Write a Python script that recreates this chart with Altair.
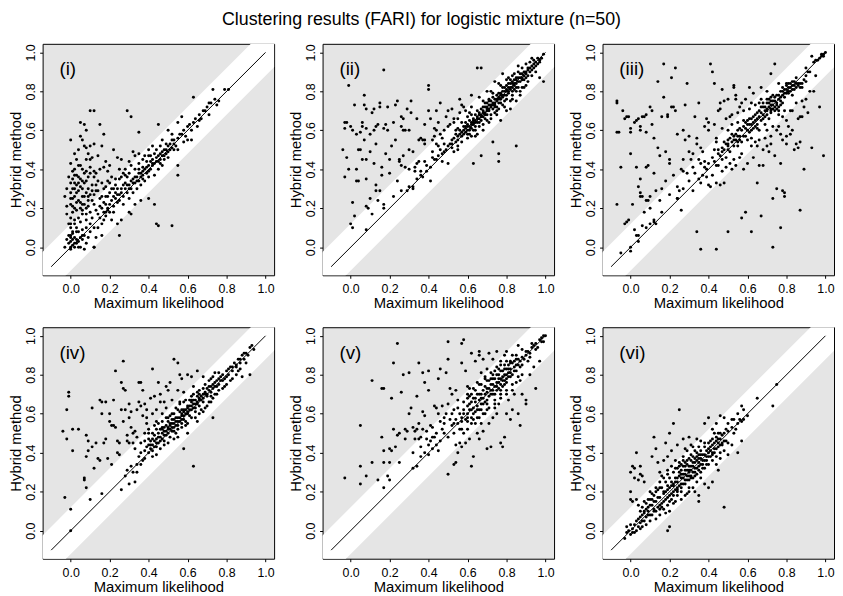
import altair as alt
import pandas as pd

TITLE = "Clustering results (FARI) for logistic mixture (n=50)"
X_TITLE = "Maximum likelihood"
Y_TITLE = "Hybrid method"
PANEL_LABELS = ["(i)", "(ii)", "(iii)", "(iv)", "(v)", "(vi)"]
TICKS = [0.0, 0.2, 0.4, 0.6, 0.8, 1.0]
DIAG_X = [-0.1, 1.0]
DIAG_Y = [-0.1, 1.0]
BAND_X = [-0.4, 1.4]
BAND_HALF = 0.12

# (maximum likelihood, hybrid method) pairs
PANEL_I = [
    (0.0,0.0),(0.01,0.01),(0.0,0.03),(0.02,0.0),(-0.01,0.02),(0.03,0.02),(0.0,-0.01),(0.01,0.04),(0.02,0.05),(0.04,0.03),
    (0.05,0.05),(0.06,0.04),(0.07,0.06),(0.08,0.02),(0.09,0.05),(0.05,0.0),(0.07,-0.01),(0.0,0.06),(0.01,0.08),(0.03,0.1),
    (-0.02,0.04),(-0.03,0.0),(0.04,0.08),(0.06,0.09),(0.08,0.1),(0.1,0.08),(0.02,0.12),(0.0,0.1),(0.05,0.13),(0.08,0.14),
    (0.1,0.12),(0.12,0.1),(0.13,0.05),(0.12,0.0),(0.11,0.15),(0.0,0.15),(0.01,0.18),(0.0,0.22),(0.02,0.2),(0.01,0.25),
    (0.0,0.28),(0.02,0.3),(0.0,0.33),(0.01,0.35),(0.03,0.37),(0.04,0.33),(0.03,0.28),(0.04,0.24),(0.05,0.2),(0.06,0.22),
    (0.07,0.26),(0.06,0.3),(0.05,0.35),(0.08,0.34),(0.07,0.38),(0.09,0.3),(0.09,0.24),(0.08,0.2),(0.1,0.18),(0.1,0.27),
    (0.11,0.32),(0.1,0.38),(0.12,0.22),(0.13,0.29),(0.12,0.36),(0.02,0.4),(0.05,0.42),(0.08,0.45),(0.1,0.41),(0.03,0.45),
    (-0.02,0.17),(-0.03,0.26),(-0.02,0.3),(0.0,0.43),(0.06,0.17),(0.04,0.15),(0.02,0.33),(0.06,0.26),(0.14,0.17),(0.15,0.25),
    (0.16,0.2),(0.14,0.34),(0.15,0.4),(0.17,0.3),(0.18,0.22),(0.0,0.55),(0.05,0.64),(0.07,0.63),(0.08,0.6),(0.05,0.57),
    (0.07,0.52),(0.1,0.7),(0.12,0.7),(0.09,0.48),(0.11,0.46),(0.12,0.53),(0.15,0.63),(0.16,0.52),(0.17,0.58),(0.14,0.47),
    (0.18,0.44),(0.2,0.42),(0.22,0.5),(0.24,0.46),(0.29,0.7),(0.31,0.67),(0.26,0.45),(0.3,0.44),(0.32,0.49),(0.33,0.47),
    (0.35,0.59),(0.27,0.38),(0.25,0.4),(0.23,0.35),(0.21,0.36),(0.19,0.34),(0.2,0.28),(0.22,0.3),(0.18,0.18),(0.19,0.2),
    (0.17,0.14),(0.21,0.14),(0.24,0.12),(0.26,0.14),(0.14,0.1),(0.16,0.06),(0.04,0.5),(0.02,0.48),(0.1,0.52),(0.15,0.15),
    (0.17,0.18),(0.19,0.19),(0.2,0.22),(0.22,0.21),(0.23,0.25),(0.24,0.23),(0.25,0.27),(0.27,0.26),(0.28,0.3),(0.29,0.28),
    (0.3,0.32),(0.31,0.3),(0.32,0.35),(0.33,0.33),(0.34,0.36),(0.35,0.34),(0.36,0.38),(0.37,0.37),(0.38,0.4),(0.39,0.38),
    (0.4,0.42),(0.41,0.4),(0.42,0.45),(0.43,0.43),(0.44,0.46),(0.45,0.44),(0.46,0.48),(0.47,0.47),(0.48,0.5),(0.49,0.48),
    (0.5,0.52),(0.51,0.5),(0.52,0.55),(0.53,0.53),(0.55,0.56),(0.57,0.58),(0.6,0.62),(0.62,0.6),(0.64,0.66),(0.66,0.68),
    (0.67,0.66),(0.7,0.72),(0.72,0.74),(0.74,0.76),(0.75,0.73),(0.73,0.81),(0.79,0.81),(0.81,0.81),(0.63,0.77),(0.57,0.67),
    (0.61,0.63),(0.62,0.55),(0.55,0.64),(0.52,0.58),(0.5,0.6),(0.45,0.63),(0.47,0.55),(0.4,0.5),(0.42,0.52),(0.38,0.47),
    (0.35,0.43),(0.33,0.4),(0.3,0.38),(0.28,0.33),(0.26,0.3),(0.24,0.3),(0.36,0.32),(0.38,0.34),(0.4,0.36),(0.43,0.37),
    (0.45,0.4),(0.48,0.45),(0.5,0.46),(0.53,0.5),(0.32,0.28),(0.3,0.25),(0.27,0.22),(0.33,0.22),(0.36,0.24),(0.4,0.25),
    (0.34,0.3),(0.29,0.36),(0.31,0.42),(0.39,0.44),(0.44,0.5),(0.46,0.52),(0.49,0.53),(0.41,0.47),(0.37,0.41),(0.25,0.35),
    (0.23,0.28),(0.21,0.24),(0.2,0.18),(0.22,0.18),(0.18,0.16),(0.16,0.12),(0.43,0.22),(0.44,0.12),(0.45,0.11),(0.52,0.11),
    (0.55,0.42),(0.55,0.37),(0.3,0.18),(0.31,0.17),(0.25,0.06),(0.12,0.0),(0.55,0.5),(0.58,0.54),(0.65,0.62),(0.68,0.7),
    (0.71,0.68),(0.6,0.55),(0.35,0.4),(0.37,0.45),(0.42,0.42),(0.47,0.42),(0.26,0.36),(0.28,0.4),(-0.01,0.12),(0.03,0.19),
    (0.0,0.05),(0.01,0.07),(0.02,0.02),(0.03,0.04),(-0.01,0.06),(0.04,0.0),(0.06,0.06),(0.03,0.08),(0.0,0.12),(0.02,0.14),
    (0.01,0.21),(0.03,0.23),(0.02,0.26),(0.04,0.29),(0.01,0.3),(0.03,0.32),(0.05,0.31),(0.06,0.34),(0.04,0.36),(0.02,0.37),
    (0.07,0.33),(0.08,0.28),(0.09,0.26),(0.07,0.22),(0.05,0.23),(0.06,0.19),(0.08,0.17),(0.09,0.21),(0.11,0.24),(0.12,0.27),
    (0.11,0.29),(0.13,0.32),(0.12,0.39),(0.09,0.36),(0.08,0.39),(0.06,0.4),(0.04,0.42),(0.01,0.39),(-0.01,0.36),(0.0,0.25),
    (-0.02,0.21),(0.13,0.19),(0.15,0.21),(0.16,0.26),(0.17,0.23),(0.19,0.26),(0.18,0.31),(0.2,0.33),(0.21,0.3),(0.23,0.32),
    (0.24,0.27),(0.26,0.28),(0.27,0.32),(0.29,0.32),(0.3,0.3),(0.32,0.33),(0.33,0.36),(0.34,0.34),(0.35,0.38),(0.36,0.36),
    (0.37,0.39),(0.39,0.41),(0.4,0.39),(0.41,0.44),(0.42,0.43),(0.44,0.44),(0.45,0.47),(0.46,0.45),(0.47,0.49),(0.48,0.47),
    (0.5,0.49),(0.51,0.53),(0.53,0.55),(0.54,0.52),(0.56,0.58),(0.58,0.6),(0.59,0.57),(0.63,0.64),(0.66,0.65),(0.69,0.7),
    (0.71,0.74),(0.76,0.75),(0.28,0.37),(0.31,0.34),(0.35,0.48),(0.37,0.35),(0.4,0.47),(0.43,0.48),(0.46,0.43),(0.49,0.5),
    (0.52,0.51),(0.22,0.26),(0.25,0.24),(0.18,0.26),(0.14,0.29),(0.16,0.33),(0.19,0.39),(0.13,0.38),(0.1,0.45),(0.08,0.51),
    (0.06,0.55),(0.17,0.41),
]

PANEL_II = [
    (-0.04,0.5),(-0.03,0.36),(-0.03,0.61),(-0.03,0.64),(-0.02,0.46),(-0.02,0.64),(-0.01,0.4),(-0.01,0.83),(0.0,0.12),(0.01,0.1),
    (0.0,0.62),(0.01,0.6),(0.01,0.23),(0.02,0.73),(0.02,0.16),(0.03,0.58),(0.03,0.4),(0.03,0.34),(0.04,0.34),(0.04,0.5),
    (0.05,0.5),(0.05,0.59),(0.06,0.64),(0.06,0.62),(0.06,0.45),(0.07,0.73),(0.07,0.55),(0.07,0.78),(0.08,0.71),(0.08,0.61),
    (0.08,0.45),(0.08,0.35),(0.08,0.21),(0.08,0.09),(0.09,0.2),(0.1,0.25),(0.1,0.58),(0.11,0.69),(0.11,0.17),(0.12,0.43),
    (0.12,0.71),(0.13,0.62),(0.13,0.53),(0.13,0.29),(0.13,0.32),(0.14,0.24),(0.14,0.63),(0.15,0.74),(0.15,0.72),(0.15,0.29),
    (0.16,0.41),(0.16,0.37),(0.17,0.22),(0.17,0.2),(0.17,0.91),(0.17,0.61),(0.18,0.63),(0.19,0.6),(0.19,0.72),(0.2,0.45),
    (0.2,0.38),(0.23,0.73),(0.23,0.55),(0.24,0.75),(0.24,0.34),(0.25,0.45),(0.25,0.44),(0.26,0.62),(0.26,0.67),(0.26,0.42),
    (0.27,0.66),(0.27,0.6),(0.28,0.6),(0.28,0.41),(0.29,0.29),(0.3,0.5),(0.3,0.6),(0.3,0.31),(0.31,0.69),(0.31,0.75),
    (0.32,0.49),(0.32,0.3),(0.33,0.39),(0.33,0.41),(0.34,0.43),(0.35,0.55),(0.36,0.37),(0.36,0.56),(0.37,0.55),(0.37,0.36),
    (0.38,0.55),(0.38,0.53),(0.38,0.44),(0.39,0.39),(0.4,0.7),(0.4,0.83),(0.4,0.81),(0.41,0.66),(0.41,0.34),(0.42,0.55),
    (0.42,0.46),(0.43,0.57),(0.43,0.61),(0.44,0.7),(0.44,0.6),(0.45,0.52),(0.46,0.74),(0.46,0.5),(0.47,0.44),(0.47,0.56),
    (0.48,0.53),(0.49,0.67),(0.5,0.7),(0.5,0.43),(0.51,0.63),(0.51,0.53),(0.52,0.55),(0.53,0.64),(0.54,0.58),(0.55,0.61),
    (0.55,0.5),(0.55,0.66),(0.56,0.76),(0.57,0.73),(0.58,0.72),(0.59,0.62),(0.6,0.58),(0.61,0.69),(0.62,0.78),(0.63,0.64),
    (0.5,0.52),(0.52,0.53),(0.53,0.56),(0.55,0.55),(0.56,0.58),(0.57,0.57),(0.58,0.6),(0.58,0.62),(0.59,0.59),(0.6,0.63),
    (0.6,0.6),(0.61,0.62),(0.61,0.65),(0.62,0.61),(0.62,0.64),(0.63,0.63),(0.63,0.66),(0.64,0.62),(0.64,0.65),(0.64,0.68),
    (0.65,0.64),(0.65,0.67),(0.66,0.66),(0.66,0.69),(0.67,0.65),(0.67,0.68),(0.67,0.71),(0.68,0.67),(0.68,0.7),(0.69,0.69),
    (0.69,0.72),(0.7,0.68),(0.7,0.71),(0.7,0.74),(0.71,0.7),(0.71,0.73),(0.72,0.72),(0.72,0.75),(0.73,0.71),(0.73,0.74),
    (0.74,0.73),(0.74,0.76),(0.75,0.72),(0.75,0.75),(0.75,0.78),(0.76,0.74),(0.76,0.77),(0.77,0.76),(0.77,0.79),(0.78,0.77),
    (0.78,0.8),(0.79,0.78),(0.79,0.82),(0.8,0.8),(0.8,0.83),(0.81,0.79),(0.81,0.82),(0.82,0.81),(0.82,0.84),(0.83,0.82),
    (0.83,0.85),(0.84,0.83),(0.84,0.86),(0.85,0.84),(0.85,0.87),(0.86,0.85),(0.86,0.82),(0.87,0.87),(0.88,0.86),(0.88,0.89),
    (0.89,0.88),(0.9,0.9),(0.9,0.87),(0.91,0.91),(0.92,0.9),(0.93,0.93),(0.94,0.92),(0.95,0.95),(0.96,0.94),(0.97,0.96),
    (0.98,0.97),(0.99,0.99),(0.92,0.95),(0.88,0.92),(0.85,0.8),(0.83,0.78),(0.8,0.76),(0.78,0.73),(0.75,0.7),(0.72,0.68),
    (0.7,0.65),(0.68,0.63),(0.66,0.62),(0.63,0.6),(0.6,0.56),(0.57,0.54),(0.55,0.52),(0.53,0.49),(0.72,0.66),(0.76,0.71),
    (0.8,0.7),(0.82,0.75),(0.87,0.78),(0.89,0.82),(0.91,0.85),(0.65,0.58),(0.62,0.57),(0.77,0.65),(0.82,0.71),(0.93,0.88),
    (0.95,0.9),(0.97,0.87),(0.99,0.85),(0.85,0.52),(0.73,0.54),(0.76,0.48),(0.76,0.44),(0.67,0.47),(0.63,0.43),(0.65,0.92),
    (0.67,0.92),(0.78,0.89),(0.74,0.85),(0.7,0.8),(0.66,0.77),(0.62,0.72),(0.68,0.75),(0.72,0.8),(0.76,0.84),(0.8,0.86),
    (0.84,0.89),(0.86,0.9),(0.9,0.94),(0.94,0.96),(0.6,0.67),(0.57,0.64),(0.54,0.6),(0.85,0.75),(0.88,0.82),(0.74,0.69),
    (0.69,0.66),(0.64,0.6),(0.71,0.76),(0.79,0.75),(0.83,0.88),(0.97,0.95),(0.93,0.97),(0.45,0.47),(0.48,0.49),(0.44,0.45),
    (0.56,0.6),(0.58,0.58),(0.59,0.61),(0.6,0.62),(0.61,0.6),(0.62,0.63),(0.63,0.65),(0.64,0.64),(0.65,0.66),(0.66,0.64),
    (0.66,0.68),(0.67,0.67),(0.68,0.69),(0.68,0.72),(0.69,0.68),(0.7,0.7),(0.7,0.72),(0.71,0.71),(0.71,0.75),(0.72,0.73),
    (0.73,0.73),(0.73,0.77),(0.74,0.74),(0.74,0.72),(0.75,0.76),(0.76,0.76),(0.76,0.79),(0.77,0.78),(0.77,0.74),(0.78,0.78),
    (0.78,0.82),(0.79,0.8),(0.8,0.81),(0.8,0.78),(0.81,0.84),(0.81,0.8),(0.82,0.82),(0.82,0.86),(0.83,0.84),(0.83,0.8),
    (0.84,0.84),(0.84,0.81),(0.85,0.86),(0.85,0.82),(0.86,0.87),(0.87,0.85),(0.87,0.89),(0.88,0.87),(0.89,0.9),(0.89,0.86),
    (0.9,0.89),(0.91,0.92),(0.91,0.88),(0.92,0.92),(0.93,0.91),(0.94,0.94),(0.95,0.93),(0.96,0.97),(0.62,0.68),(0.65,0.7),
    (0.69,0.74),(0.73,0.79),(0.77,0.83),(0.81,0.87),(0.86,0.93),(0.64,0.57),(0.68,0.6),(0.71,0.64),(0.75,0.68),(0.79,0.72),
    (0.83,0.76),(0.87,0.8),(0.9,0.83),(0.55,0.57),(0.57,0.59),(0.59,0.64),(0.61,0.58),(0.54,0.54),(0.52,0.51),(0.49,0.5),
    (0.47,0.48),(0.43,0.45),(0.41,0.41),(0.39,0.42),(0.36,0.39),(0.34,0.35),(0.32,0.31),(0.26,0.29),(0.22,0.26),(0.46,0.58),
    (0.5,0.62),(0.53,0.66),(0.56,0.69),(0.59,0.7),(0.48,0.6),(0.44,0.53),(0.42,0.49),(0.35,0.44),(0.3,0.4),(0.27,0.47),
    (0.21,0.52),(0.18,0.48),(0.1,0.49),(0.12,0.6),(0.22,0.64),(0.29,0.71),(0.34,0.66),(0.38,0.63),(0.45,0.64),(0.52,0.71),
]

PANEL_III = [
    (-0.07,0.75),(-0.07,0.74),(-0.07,0.59),(-0.06,0.59),(-0.07,0.22),(-0.05,0.41),(-0.04,0.7),(-0.03,0.66),(-0.02,0.67),(-0.01,0.67),
    (0.0,0.61),(0.0,0.59),(0.0,0.48),(-0.03,0.12),(-0.02,0.13),(-0.01,0.14),(0.01,0.22),(0.02,0.64),(0.03,0.65),(0.04,0.66),
    (0.05,0.62),(0.05,0.6),(0.06,0.67),(0.07,0.67),(0.08,0.68),(0.08,0.59),(0.03,0.41),(0.04,0.31),(0.05,0.35),(0.05,0.28),
    (0.05,0.26),(0.06,0.26),(0.07,0.18),(0.08,0.24),(0.08,0.41),(0.09,0.42),(0.09,0.24),(0.1,0.2),(0.1,0.26),(0.1,0.72),
    (0.11,0.7),(0.11,0.63),(0.12,0.56),(0.12,0.38),(0.12,0.13),(0.13,0.12),(0.13,0.29),(0.14,0.85),(0.14,0.51),(0.15,0.47),
    (0.15,0.24),(0.16,0.3),(0.16,0.67),(0.17,0.94),(0.17,0.77),(0.18,0.49),(0.18,0.34),(0.19,0.68),(0.19,0.67),(0.2,0.45),
    (0.2,0.43),(0.21,0.87),(0.21,0.72),(0.22,0.72),(0.22,0.37),(0.23,0.92),(0.23,0.7),(0.24,0.58),(0.24,0.31),(0.24,0.25),
    (0.25,0.29),(0.26,0.4),(0.26,0.19),(0.27,0.6),(0.27,0.39),(0.28,0.73),(0.28,0.55),(0.29,0.84),(0.3,0.57),(0.3,0.49),
    (0.31,0.45),(0.32,0.48),(0.33,0.67),(0.34,0.56),(0.34,0.53),(0.35,0.74),(0.35,0.45),(0.36,0.51),(0.37,0.49),(0.38,0.62),
    (0.38,0.44),(0.39,0.66),(0.4,0.6),(0.4,0.64),(0.41,0.94),(0.42,0.9),(0.43,0.84),(0.43,0.63),(0.44,0.54),(0.45,0.7),
    (0.46,0.74),(0.46,0.71),(0.47,0.81),(0.48,0.75),(0.49,0.66),(0.5,0.76),(0.51,0.67),(0.52,0.63),(0.53,0.83),(0.53,0.82),
    (0.54,0.78),(0.54,0.76),(0.55,0.69),(0.57,0.74),(0.59,0.64),(0.61,0.82),(0.62,0.74),(0.66,0.74),(0.67,0.82),(0.72,0.89),
    (0.74,0.94),(0.76,0.84),(-0.05,-0.03),(0.0,0.0),(0.0,-0.02),(0.02,0.09),(0.03,0.06),(0.04,0.03),(0.04,0.06),(0.06,0.11),
    (0.08,0.1),(0.1,0.12),(0.12,0.14),(0.16,0.18),(0.2,0.27),(0.24,0.25),(0.27,0.3),(0.3,0.34),(0.32,0.29),(0.33,0.38),
    (0.35,0.35),(0.36,0.33),(0.37,0.37),(0.38,0.41),(0.39,0.4),(0.4,0.32),(0.4,0.43),(0.41,0.31),(0.42,0.46),(0.43,0.44),
    (0.43,0.5),(0.44,0.42),(0.45,0.48),(0.46,0.47),(0.47,0.51),(0.48,0.5),(0.49,0.46),(0.49,0.53),(0.5,0.52),(0.5,0.55),
    (0.51,0.49),(0.52,0.54),(0.52,0.58),(0.53,0.52),(0.54,0.55),(0.55,0.54),(0.55,0.6),(0.56,0.57),(0.57,0.54),(0.57,0.6),
    (0.58,0.62),(0.59,0.57),(0.6,0.6),(0.6,0.65),(0.61,0.63),(0.62,0.6),(0.62,0.66),(0.63,0.64),(0.64,0.68),(0.64,0.62),
    (0.65,0.66),(0.66,0.7),(0.67,0.65),(0.67,0.69),(0.68,0.72),(0.69,0.7),(0.7,0.74),(0.7,0.68),(0.71,0.72),(0.71,0.76),
    (0.72,0.73),(0.73,0.75),(0.73,0.71),(0.74,0.77),(0.75,0.74),(0.76,0.78),(0.76,0.72),(0.77,0.8),(0.78,0.78),(0.79,0.81),
    (0.8,0.83),(0.8,0.79),(0.81,0.82),(0.82,0.84),(0.82,0.8),(0.83,0.83),(0.84,0.85),(0.85,0.82),(0.86,0.84),(0.87,0.84),
    (0.88,0.82),(0.89,0.86),(0.9,0.88),(0.92,0.9),(0.94,0.95),(0.96,0.96),(0.98,0.98),(0.99,0.99),(1.0,1.0),(0.99,0.98),
    (0.93,0.98),(0.9,0.92),(0.83,0.78),(0.78,0.74),(0.74,0.7),(0.72,0.69),(0.68,0.66),(0.65,0.63),(0.55,0.52),(0.53,0.57),
    (0.47,0.45),(0.45,0.42),(0.72,0.77),(0.7,0.71),(0.77,0.75),(0.79,0.77),(0.81,0.79),(0.85,0.87),(0.34,0.08),(0.36,-0.01),
    (0.44,-0.01),(0.5,0.08),(0.57,0.15),(0.59,0.18),(0.62,0.08),(0.65,0.33),(0.67,0.16),(0.73,0.0),(0.73,0.25),(0.75,0.3),
    (0.77,0.1),(0.78,0.29),(0.79,0.26),(0.79,0.28),(0.87,0.19),(0.89,0.4),(0.93,0.51),(0.97,0.72),(0.99,0.47),(0.6,0.43),
    (0.63,0.46),(0.65,0.52),(0.66,0.42),(0.68,0.42),(0.7,0.52),(0.72,0.53),(0.74,0.47),(0.75,0.6),(0.76,0.62),(0.77,0.43),
    (0.78,0.55),(0.8,0.57),(0.8,0.65),(0.81,0.62),(0.82,0.58),(0.83,0.7),(0.84,0.5),(0.85,0.53),(0.86,0.51),(0.87,0.67),
    (0.87,0.54),(0.88,0.67),(0.89,0.72),(0.9,0.76),(0.91,0.69),(0.92,0.8),(0.94,0.8),(0.95,0.88),(0.56,0.46),(0.58,0.4),
    (0.52,0.4),(0.54,0.42),(0.48,0.33),(0.46,0.32),(0.44,0.33),(0.5,0.5),(0.62,0.52),(0.7,0.6),(0.73,0.62),(0.76,0.68),
    (0.79,0.7),(0.69,0.56),(0.66,0.55),(0.71,0.49),(0.84,0.81),(0.81,0.84),(0.78,0.82),(0.75,0.71),(0.72,0.7),(0.69,0.67),
    (0.45,0.5),(0.47,0.49),(0.48,0.54),(0.5,0.53),(0.51,0.56),(0.53,0.55),(0.54,0.58),(0.55,0.57),(0.56,0.55),(0.56,0.61),
    (0.58,0.57),(0.58,0.65),(0.59,0.61),(0.6,0.63),(0.61,0.59),(0.61,0.66),(0.62,0.63),(0.63,0.67),(0.63,0.61),(0.64,0.65),
    (0.65,0.69),(0.65,0.61),(0.66,0.67),(0.67,0.72),(0.68,0.68),(0.68,0.74),(0.69,0.72),(0.7,0.7),(0.7,0.76),(0.71,0.74),
    (0.72,0.71),(0.72,0.75),(0.73,0.73),(0.73,0.78),(0.74,0.72),(0.74,0.75),(0.75,0.78),(0.75,0.73),(0.76,0.76),(0.77,0.73),
    (0.77,0.77),(0.78,0.8),(0.79,0.79),(0.8,0.81),(0.8,0.84),(0.81,0.8),(0.82,0.82),(0.83,0.81),(0.83,0.85),(0.84,0.83),
    (0.85,0.84),(0.86,0.83),(0.87,0.82),(0.88,0.84),(0.9,0.85),(0.91,0.9),(0.95,0.96),(0.97,0.97),(0.98,0.99),(0.62,0.56),
    (0.66,0.6),(0.69,0.63),(0.71,0.66),(0.76,0.7),(0.78,0.67),(0.82,0.7),(0.85,0.74),(0.88,0.75),(0.86,0.66),(0.83,0.6),
    (0.8,0.53),(0.77,0.58),(0.72,0.57),(0.68,0.5),(0.64,0.54),(0.6,0.55),(0.57,0.48),(0.53,0.45),(0.51,0.43),(0.49,0.41),
    (0.47,0.39),(0.42,0.37),(0.39,0.36),(0.36,0.43),(0.32,0.41),(0.29,0.38),(0.27,0.45),(0.44,0.56),(0.47,0.61),(0.5,0.6),
    (0.55,0.64),(0.58,0.7),(0.61,0.71),(0.64,0.73),(0.67,0.76),(0.7,0.8),(0.63,0.79),(0.59,0.76),(0.56,0.72),(0.52,0.68),
]

PANEL_IV = [
    (-0.04,0.51),(-0.03,0.17),(-0.02,0.47),(-0.02,0.62),(-0.01,0.69),(-0.01,0.71),(0.0,0.11),(0.0,0.0),(0.01,0.52),(0.01,0.41),
    (0.04,0.52),(0.07,0.27),(0.07,0.26),(0.08,0.38),(0.08,0.49),(0.08,0.22),(0.09,0.46),(0.09,0.41),(0.1,0.16),(0.11,0.63),
    (0.11,0.43),(0.12,0.32),(0.13,0.45),(0.14,0.37),(0.15,0.36),(0.15,0.67),(0.16,0.66),(0.16,0.6),(0.16,0.19),(0.17,0.45),
    (0.18,0.66),(0.18,0.47),(0.19,0.37),(0.2,0.6),(0.2,0.56),(0.21,0.34),(0.21,0.54),(0.22,0.67),(0.22,0.54),(0.23,0.82),
    (0.23,0.53),(0.24,0.46),(0.24,0.4),(0.25,0.45),(0.25,0.39),(0.26,0.76),(0.26,0.62),(0.27,0.87),(0.27,0.73),(0.27,0.56),
    (0.28,0.62),(0.28,0.72),(0.29,0.46),(0.29,0.49),(0.3,0.58),(0.3,0.65),(0.3,0.45),(0.31,0.53),(0.31,0.61),(0.32,0.5),
    (0.32,0.45),(0.33,0.51),(0.34,0.62),(0.35,0.76),(0.35,0.66),(0.36,0.76),(0.36,0.64),(0.37,0.72),(0.37,0.59),(0.38,0.65),
    (0.38,0.5),(0.39,0.62),(0.39,0.55),(0.4,0.52),(0.4,0.47),(0.41,0.68),(0.42,0.83),(0.42,0.6),(0.43,0.69),(0.44,0.56),
    (0.45,0.76),(0.46,0.7),(0.47,0.6),(0.48,0.66),(0.49,0.74),(0.5,0.72),(0.51,0.76),(0.52,0.67),(0.53,0.88),(0.55,0.86),
    (0.55,0.72),(0.56,0.8),(0.57,0.78),(0.58,0.71),(0.6,0.8),(0.62,0.79),(0.63,0.74),(0.65,0.82),(0.68,0.79),(0.26,0.21),
    (0.28,0.28),(0.3,0.24),(0.32,0.3),(0.33,0.25),(0.34,0.34),(0.35,0.38),(0.36,0.4),(0.37,0.36),(0.38,0.41),(0.39,0.43),
    (0.4,0.4),(0.4,0.44),(0.41,0.42),(0.41,0.46),(0.42,0.41),(0.42,0.44),(0.43,0.46),(0.43,0.49),(0.44,0.43),(0.44,0.47),
    (0.45,0.45),(0.45,0.5),(0.46,0.48),(0.46,0.52),(0.47,0.47),(0.47,0.5),(0.48,0.49),(0.48,0.53),(0.49,0.51),(0.49,0.54),
    (0.5,0.5),(0.5,0.53),(0.5,0.56),(0.51,0.52),(0.51,0.55),(0.52,0.53),(0.52,0.57),(0.53,0.51),(0.53,0.55),(0.54,0.54),
    (0.54,0.58),(0.55,0.56),(0.55,0.52),(0.56,0.58),(0.56,0.61),(0.57,0.57),(0.57,0.6),(0.58,0.59),(0.58,0.62),(0.59,0.6),
    (0.59,0.56),(0.6,0.61),(0.6,0.64),(0.61,0.62),(0.61,0.59),(0.62,0.64),(0.62,0.66),(0.63,0.63),(0.63,0.67),(0.64,0.65),
    (0.64,0.61),(0.65,0.66),(0.65,0.69),(0.66,0.67),(0.66,0.64),(0.67,0.69),(0.68,0.7),(0.68,0.66),(0.69,0.71),(0.7,0.7),
    (0.7,0.73),(0.71,0.72),(0.72,0.74),(0.72,0.69),(0.73,0.75),(0.74,0.76),(0.75,0.74),(0.76,0.78),(0.77,0.77),(0.78,0.8),
    (0.79,0.78),(0.8,0.82),(0.81,0.8),(0.82,0.84),(0.83,0.82),(0.84,0.86),(0.85,0.84),(0.86,0.88),(0.87,0.86),(0.88,0.9),
    (0.89,0.88),(0.9,0.91),(0.91,0.9),(0.92,0.94),(0.93,0.95),(0.94,0.93),(0.92,0.8),(0.88,0.79),(0.86,0.82),(0.83,0.78),
    (0.8,0.75),(0.76,0.72),(0.73,0.68),(0.73,0.58),(0.7,0.64),(0.67,0.62),(0.65,0.56),(0.63,0.33),(0.6,0.5),(0.58,0.42),
    (0.57,0.55),(0.55,0.48),(0.53,0.47),(0.5,0.45),(0.48,0.44),(0.46,0.42),(0.44,0.39),(0.42,0.38),(0.38,0.37),(0.36,0.34),
    (0.34,0.3),(0.31,0.33),(0.29,0.31),(0.6,0.55),(0.64,0.58),(0.68,0.61),(0.71,0.66),(0.75,0.7),(0.78,0.73),(0.82,0.77),
    (0.85,0.8),(0.87,0.83),(0.9,0.86),(0.47,0.56),(0.49,0.58),(0.51,0.59),(0.55,0.62),(0.58,0.66),(0.62,0.69),(0.66,0.72),
    (0.69,0.75),(0.72,0.78),(0.74,0.81),(0.45,0.55),(0.44,0.52),(0.42,0.5),(0.53,0.6),(0.56,0.65),(0.59,0.67),(0.63,0.7),
    (0.41,0.44),(0.42,0.47),(0.43,0.43),(0.44,0.45),(0.45,0.48),(0.46,0.46),(0.47,0.52),(0.48,0.51),(0.49,0.49),(0.5,0.52),
    (0.51,0.54),(0.52,0.51),(0.52,0.55),(0.53,0.53),(0.53,0.57),(0.54,0.56),(0.55,0.54),(0.55,0.58),(0.56,0.56),(0.57,0.59),
    (0.57,0.62),(0.58,0.57),(0.58,0.61),(0.59,0.62),(0.6,0.6),(0.6,0.63),(0.61,0.64),(0.62,0.62),(0.62,0.67),(0.63,0.65),
    (0.64,0.63),(0.64,0.67),(0.65,0.65),(0.66,0.68),(0.66,0.7),(0.67,0.67),(0.68,0.68),(0.69,0.7),(0.7,0.69),(0.71,0.74),
    (0.72,0.71),(0.73,0.73),(0.74,0.74),(0.75,0.77),(0.76,0.75),(0.77,0.79),(0.78,0.77),(0.8,0.79),(0.81,0.83),(0.83,0.84),
    (0.85,0.85),(0.87,0.88),(0.89,0.91),(0.5,0.58),(0.52,0.6),(0.54,0.63),(0.56,0.66),(0.61,0.67),(0.65,0.71),(0.68,0.73),
    (0.71,0.77),(0.73,0.79),(0.76,0.81),(0.48,0.46),(0.51,0.48),(0.54,0.5),(0.57,0.53),(0.59,0.54),(0.62,0.58),(0.66,0.6),
    (0.69,0.63),(0.72,0.66),(0.74,0.7),(0.79,0.74),(0.43,0.54),(0.4,0.5),(0.38,0.46),(0.36,0.45),(0.34,0.48),(0.33,0.42),
    (0.39,0.58),(0.44,0.62),(0.46,0.66),(0.49,0.63),(0.47,0.53),
]

PANEL_V = [
    (-0.03,0.27),(0.05,0.54),(0.05,0.24),(0.05,0.33),(0.08,0.28),(0.11,0.35),(0.11,0.77),(0.14,0.26),(0.16,0.73),(0.16,0.48),
    (0.17,0.73),(0.17,0.41),(0.17,0.35),(0.17,0.22),(0.19,0.28),(0.2,0.42),(0.2,0.35),(0.2,0.26),(0.21,0.68),(0.21,0.41),
    (0.22,0.52),(0.22,0.86),(0.23,0.43),(0.24,0.96),(0.24,0.49),(0.25,0.5),(0.25,0.35),(0.26,0.71),(0.27,0.8),(0.28,0.52),
    (0.28,0.47),(0.29,0.51),(0.3,0.81),(0.3,0.6),(0.31,0.63),(0.32,0.53),(0.32,0.4),(0.33,0.47),(0.33,0.51),(0.34,0.69),
    (0.34,0.52),(0.35,0.86),(0.35,0.55),(0.36,0.48),(0.36,0.43),(0.37,0.61),(0.37,0.81),(0.38,0.76),(0.38,0.59),(0.39,0.51),
    (0.4,0.72),(0.4,0.82),(0.41,0.54),(0.41,0.46),(0.42,0.53),(0.43,0.64),(0.43,0.48),(0.44,0.63),(0.45,0.78),(0.45,0.6),
    (0.46,0.83),(0.47,0.64),(0.48,0.55),(0.49,0.81),(0.5,0.97),(0.5,0.88),(0.5,0.65),(0.51,0.73),(0.52,0.7),(0.53,0.62),
    (0.54,0.72),(0.55,0.67),(0.57,0.96),(0.57,0.86),(0.58,0.98),(0.59,0.82),(0.6,0.74),(0.61,0.73),(0.62,0.91),(0.64,0.87),
    (0.66,0.92),(0.66,0.9),(0.67,0.81),(0.68,0.88),(0.7,0.83),(0.71,0.91),(0.73,0.88),(0.75,0.92),(0.77,0.87),(0.79,0.9),
    (0.8,0.92),(0.83,0.9),(0.86,0.95),(0.88,0.93),(0.91,0.92),(0.93,0.96),(0.95,0.93),(0.32,0.32),(0.34,0.33),(0.36,0.38),
    (0.38,0.4),(0.4,0.39),(0.42,0.42),(0.44,0.44),(0.45,0.41),(0.46,0.46),(0.48,0.5),(0.5,0.48),(0.52,0.54),(0.53,0.5),
    (0.54,0.57),(0.55,0.55),(0.56,0.6),(0.57,0.58),(0.58,0.62),(0.59,0.57),(0.6,0.6),(0.6,0.64),(0.61,0.62),(0.62,0.58),
    (0.62,0.66),(0.63,0.63),(0.63,0.68),(0.64,0.61),(0.64,0.66),(0.65,0.64),(0.65,0.7),(0.66,0.67),(0.66,0.62),(0.67,0.7),
    (0.67,0.65),(0.68,0.72),(0.68,0.68),(0.69,0.66),(0.69,0.74),(0.7,0.71),(0.7,0.67),(0.71,0.73),(0.71,0.77),(0.72,0.7),
    (0.72,0.75),(0.73,0.72),(0.73,0.78),(0.74,0.74),(0.74,0.7),(0.75,0.76),(0.75,0.8),(0.76,0.73),(0.76,0.78),(0.77,0.75),
    (0.77,0.82),(0.78,0.79),(0.78,0.74),(0.79,0.8),(0.79,0.77),(0.8,0.83),(0.8,0.78),(0.81,0.81),(0.81,0.85),(0.82,0.79),
    (0.82,0.83),(0.83,0.86),(0.84,0.82),(0.84,0.87),(0.85,0.85),(0.86,0.88),(0.87,0.84),(0.88,0.89),(0.9,0.9),(0.91,0.87),
    (0.93,0.94),(0.95,0.96),(0.97,0.98),(1.0,1.0),(0.99,0.97),(0.98,0.99),(0.92,0.91),(0.5,0.29),(0.53,0.34),(0.54,0.35),
    (0.55,0.4),(0.56,0.45),(0.57,0.43),(0.58,0.5),(0.59,0.45),(0.6,0.52),(0.61,0.47),(0.62,0.33),(0.63,0.38),(0.64,0.55),
    (0.65,0.5),(0.66,0.47),(0.67,0.55),(0.68,0.51),(0.69,0.6),(0.7,0.42),(0.71,0.55),(0.72,0.43),(0.73,0.58),(0.74,0.63),
    (0.75,0.6),(0.76,0.65),(0.77,0.45),(0.78,0.43),(0.79,0.48),(0.8,0.6),(0.81,0.67),(0.82,0.57),(0.83,0.62),(0.84,0.7),
    (0.86,0.6),(0.87,0.54),(0.88,0.7),(0.9,0.67),(0.9,0.65),(0.92,0.8),(0.94,0.84),(0.95,0.73),(0.97,0.87),(0.54,0.44),
    (0.57,0.52),(0.6,0.56),(0.63,0.57),(0.66,0.58),(0.7,0.62),(0.74,0.67),(0.77,0.7),(0.8,0.72),(0.83,0.75),(0.86,0.79),
    (0.88,0.8),(0.58,0.66),(0.61,0.69),(0.64,0.72),(0.67,0.75),(0.7,0.77),(0.73,0.8),(0.76,0.83),(0.79,0.85),(0.82,0.87),
    (0.52,0.6),(0.55,0.63),(0.48,0.58),(0.46,0.56),(0.62,0.7),(0.69,0.79),(0.75,0.84),(0.85,0.9),(0.6,0.68),(0.65,0.76),
    (0.58,0.6),(0.6,0.58),(0.61,0.65),(0.62,0.62),(0.63,0.6),(0.64,0.68),(0.65,0.62),(0.66,0.7),(0.67,0.68),(0.67,0.62),
    (0.68,0.65),(0.69,0.7),(0.7,0.73),(0.7,0.65),(0.71,0.69),(0.72,0.72),(0.72,0.78),(0.73,0.7),(0.73,0.75),(0.74,0.78),
    (0.75,0.72),(0.75,0.74),(0.76,0.76),(0.76,0.8),(0.77,0.78),(0.77,0.72),(0.78,0.77),(0.78,0.82),(0.79,0.75),(0.79,0.83),
    (0.8,0.8),(0.8,0.76),(0.81,0.79),(0.81,0.83),(0.82,0.81),(0.82,0.86),(0.83,0.8),(0.84,0.84),(0.85,0.82),(0.85,0.88),
    (0.86,0.85),(0.87,0.87),(0.88,0.85),(0.89,0.88),(0.9,0.92),(0.92,0.89),(0.94,0.95),(0.96,0.94),(0.98,0.97),(0.99,1.0),
    (0.6,0.7),(0.63,0.73),(0.66,0.75),(0.69,0.78),(0.72,0.81),(0.74,0.82),(0.77,0.85),(0.8,0.87),(0.62,0.55),(0.65,0.58),
    (0.68,0.6),(0.71,0.63),(0.74,0.65),(0.77,0.68),(0.8,0.7),(0.83,0.72),(0.85,0.76),(0.87,0.77),(0.56,0.52),(0.57,0.56),
    (0.53,0.55),(0.51,0.57),(0.49,0.6),(0.47,0.52),(0.44,0.5),(0.42,0.48),(0.4,0.44),(0.39,0.47),(0.37,0.52),(0.35,0.47),
]

PANEL_VI = [
    (-0.03,-0.04),(-0.02,-0.01),(-0.01,0.0),(0.0,-0.02),(0.01,0.01),(0.02,0.03),(0.03,0.0),(0.04,0.02),(0.05,0.04),(0.06,0.02),
    (0.07,0.05),(0.08,0.07),(0.05,0.01),(0.02,-0.01),(0.09,0.1),(0.1,0.08),(0.11,0.13),(0.12,0.11),(0.13,0.15),(0.14,0.12),
    (0.15,0.17),(0.16,0.14),(0.17,0.19),(0.18,0.16),(0.19,0.21),(0.2,0.18),(0.21,0.23),(0.22,0.2),(0.23,0.25),(0.24,0.22),
    (0.25,0.28),(0.26,0.24),(0.27,0.29),(0.28,0.26),(0.29,0.31),(0.3,0.28),(0.31,0.33),(0.32,0.3),(0.33,0.35),(0.34,0.32),
    (0.35,0.37),(0.36,0.34),(0.37,0.39),(0.38,0.36),(0.39,0.41),(0.4,0.38),(0.41,0.43),(0.42,0.4),(0.43,0.45),(0.44,0.42),
    (0.45,0.47),(0.46,0.44),(0.47,0.49),(0.48,0.46),(0.5,0.51),(0.52,0.53),(0.54,0.52),(0.56,0.57),(0.58,0.57),(0.6,0.59),
    (0.65,0.68),(0.73,0.64),(0.75,0.75),(0.0,0.3),(0.0,0.2),(0.0,0.16),(0.01,0.15),(0.01,0.33),(0.02,0.32),(0.02,0.27),
    (0.03,0.4),(0.04,0.26),(0.05,0.29),(0.05,0.33),(0.06,0.28),(0.07,0.25),(0.03,0.16),(0.04,0.13),(0.05,0.1),(0.06,0.12),
    (0.07,0.15),(0.08,0.14),(0.09,0.16),(0.1,0.16),(0.11,0.38),(0.12,0.48),(0.13,0.42),(0.14,0.35),(0.15,0.3),(0.16,0.28),
    (0.17,0.36),(0.18,0.45),(0.19,0.38),(0.2,0.5),(0.21,0.41),(0.22,0.55),(0.24,0.44),(0.25,0.62),(0.27,0.47),(0.28,0.42),
    (0.29,0.41),(0.3,0.48),(0.32,0.43),(0.34,0.47),(0.36,0.46),(0.38,0.55),(0.4,0.58),(0.42,0.52),(0.44,0.55),(0.46,0.59),
    (0.48,0.58),(0.5,0.55),(0.52,0.57),(0.55,0.6),(0.57,0.64),(0.58,0.62),(0.55,0.4),(0.57,0.46),(0.52,0.44),(0.5,0.39),
    (0.48,0.12),(0.45,0.31),(0.42,0.25),(0.4,0.22),(0.38,0.24),(0.35,0.15),(0.35,0.18),(0.33,0.2),(0.3,0.22),(0.28,0.18),
    (0.26,0.16),(0.24,0.2),(0.22,0.14),(0.2,0.02),(0.19,0.0),(0.2,0.1),(0.18,0.09),(0.16,0.12),(0.15,0.08),(0.13,0.06),
    (0.12,0.1),(0.1,0.05),(0.08,0.03),(0.1,0.2),(0.12,0.18),(0.14,0.21),(0.16,0.22),(0.18,0.25),(0.2,0.27),(0.22,0.3),
    (0.24,0.32),(0.26,0.34),(0.28,0.35),(0.3,0.37),(0.32,0.38),(0.34,0.4),(0.36,0.41),(0.38,0.43),(0.4,0.45),(0.42,0.47),
    (0.44,0.48),(0.46,0.5),(0.2,0.15),(0.22,0.18),(0.24,0.21),(0.26,0.22),(0.28,0.24),(0.3,0.26),(0.32,0.27),(0.34,0.29),
    (0.36,0.3),(0.38,0.32),(0.4,0.34),(0.42,0.36),(0.44,0.38),(0.46,0.4),(0.25,0.3),(0.27,0.33),(0.29,0.34),(0.31,0.36),
    (0.33,0.37),(0.23,0.27),(0.21,0.25),(0.19,0.23),(0.17,0.2),(0.25,0.35),(0.3,0.31),(0.35,0.33),(0.37,0.34),(0.33,0.3),
    (0.28,0.31),(0.26,0.29),(0.24,0.27),(0.27,0.24),(0.29,0.26),(0.31,0.28),(0.22,0.24),(0.14,0.17),(0.12,0.15),(0.1,0.13),
    (0.08,0.11),(0.06,0.08),(0.04,0.06),(0.43,0.4),(0.45,0.43),(0.47,0.45),(0.49,0.46),(0.39,0.36),(0.41,0.38),(0.35,0.39),
    (0.31,0.39),(0.27,0.36),(0.23,0.32),(0.19,0.29),(0.15,0.25),(0.13,0.22),(0.11,0.19),(0.09,0.12),(0.07,0.09),(0.43,0.5),
    (0.15,0.13),(0.17,0.15),(0.18,0.2),(0.19,0.17),(0.2,0.22),(0.21,0.19),(0.22,0.23),(0.23,0.21),(0.24,0.25),(0.25,0.23),
    (0.26,0.27),(0.26,0.31),(0.27,0.27),(0.28,0.29),(0.28,0.33),(0.29,0.28),(0.29,0.36),(0.3,0.33),(0.3,0.3),(0.31,0.31),
    (0.31,0.27),(0.32,0.35),(0.32,0.33),(0.33,0.32),(0.33,0.28),(0.34,0.36),(0.34,0.38),(0.35,0.35),(0.35,0.31),(0.36,0.37),
    (0.36,0.39),(0.37,0.36),(0.37,0.32),(0.38,0.39),(0.39,0.38),(0.39,0.34),(0.4,0.4),(0.4,0.42),(0.41,0.41),(0.42,0.44),
    (0.42,0.39),(0.43,0.42),(0.44,0.46),(0.45,0.45),(0.45,0.5),(0.46,0.47),(0.47,0.44),(0.48,0.5),(0.49,0.52),(0.26,0.2),
    (0.24,0.18),(0.23,0.15),(0.21,0.16),(0.19,0.13),(0.17,0.11),(0.15,0.11),(0.13,0.1),(0.11,0.08),(0.25,0.33),(0.27,0.38),
    (0.23,0.36),(0.21,0.33),(0.19,0.31),(0.17,0.27),(0.15,0.22),(0.13,0.2),(0.11,0.16),(0.35,0.43),(0.33,0.41),(0.31,0.44),
    (0.38,0.45),(0.41,0.46),(0.36,0.27),(0.34,0.25),(0.32,0.22),(0.3,0.2),(0.29,0.19),(0.44,0.34),(0.46,0.37),(0.48,0.41),
    (0.5,0.45),(0.53,0.5),(0.55,0.55),(0.57,0.56),(0.53,0.57),(0.06,0.05),(0.03,0.05),(0.01,-0.01),(0.0,0.03),(-0.02,0.02),
    (0.05,0.07),(0.07,0.1),(0.09,0.08),
]

PANELS = [PANEL_I, PANEL_II, PANEL_III, PANEL_IV, PANEL_V, PANEL_VI]

FONT = "Liberation Sans"
DOMAIN = [-0.144, 1.044]


def make_panel(points, label):
    pts = pd.DataFrame(points, columns=["ml", "hy"])
    band = pd.DataFrame({"ml": BAND_X})
    diag = pd.DataFrame({"ml": DIAG_X, "hy": DIAG_Y})
    xs = alt.Scale(domain=DOMAIN, nice=False, zero=False)
    ys = alt.Scale(domain=DOMAIN, nice=False, zero=False)
    xa = alt.Axis(values=TICKS, format=".1f", title=X_TITLE)
    ya = alt.Axis(values=TICKS, format=".1f", title=Y_TITLE)

    band_layer = alt.Chart(band).transform_calculate(
        lo=f"datum.ml - {BAND_HALF}", hi=f"datum.ml + {BAND_HALF}"
    ).mark_area(color="white", clip=True, opacity=1).encode(
        x=alt.X("ml:Q", scale=xs, axis=xa),
        y=alt.Y("lo:Q", scale=ys, axis=ya),
        y2="hi:Q",
    )
    line_layer = alt.Chart(diag).mark_line(color="black", strokeWidth=1, clip=True).encode(
        x=alt.X("ml:Q", scale=xs, axis=xa),
        y=alt.Y("hy:Q", scale=ys, axis=ya),
    )
    pt_layer = alt.Chart(pts).mark_circle(color="black", opacity=1, size=9, clip=True).encode(
        x=alt.X("ml:Q", scale=xs, axis=xa),
        y=alt.Y("hy:Q", scale=ys, axis=ya),
    )
    txt = alt.Chart(pd.DataFrame({"t": [label]})).mark_text(
        align="left", baseline="middle", fontSize=19, font=FONT, color="black"
    ).encode(x=alt.value(17), y=alt.value(26), text="t:N")
    return alt.layer(band_layer, line_layer, pt_layer, txt).properties(width=234, height=234)


charts = [make_panel(p, l) for p, l in zip(PANELS, PANEL_LABELS)]

chart = alt.concat(*charts, columns=3, spacing={"row": 14.5, "column": 13}).properties(
    title=alt.TitleParams(TITLE, fontSize=18, font=FONT, fontWeight="normal", anchor="middle",
                          offset=14, color="black"),
    padding={"left": 0, "top": 0, "right": 0, "bottom": 0},
).configure_view(
    fill="#e5e5e5", stroke="black", strokeWidth=1
).configure_axis(
    domain=False, grid=False, ticks=True, tickColor="black", tickSize=3,
    labelFont=FONT, labelFontSize=12.5, labelColor="black", labelFlush=False, labelOverlap=False,
    titleFont=FONT, titleFontSize=15, titleFontWeight="normal", titleColor="black",
).configure_axisX(
    labelPadding=4.5, titlePadding=1
).configure_axisY(
    labelAngle=270, labelAlign="center", labelBaseline="bottom", labelPadding=2, titlePadding=1
)

chart.save("out.html", embed_options={"renderer": "svg", "actions": False})
